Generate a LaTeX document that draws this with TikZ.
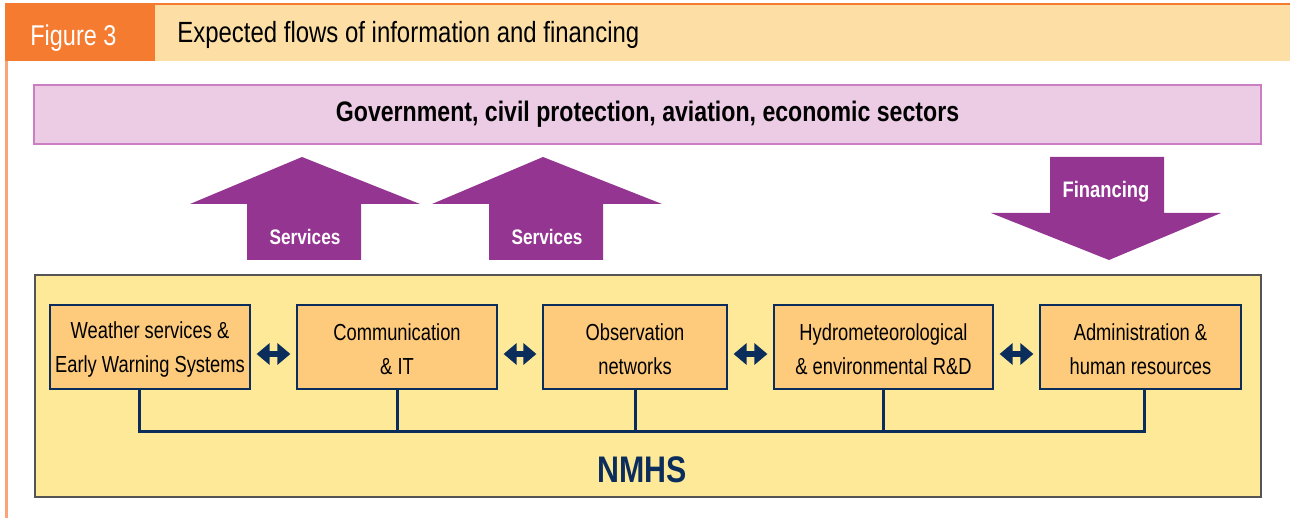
\documentclass[tikz,border=0pt]{standalone}
\usepackage{fontspec}
\setmainfont[FakeStretch=0.82]{Liberation Sans}
\newfontfamily\boxfont[FakeStretch=0.79]{Liberation Sans}
\usetikzlibrary{arrows.meta}
\definecolor{hdrorange}{HTML}{F47B30}
\definecolor{hdrbeige}{HTML}{FDDFA6}
\definecolor{sideline}{HTML}{FBA47A}
\definecolor{bannerfill}{HTML}{ECCBE4}
\definecolor{bannerdraw}{HTML}{CB7EC2}
\definecolor{arrowpurple}{HTML}{953592}
\definecolor{nmhsfill}{HTML}{FEE999}
\definecolor{nmhsdraw}{HTML}{555555}
\definecolor{unitfill}{HTML}{FECB7D}
\definecolor{navy}{HTML}{0B2D5B}
\begin{document}
\begin{tikzpicture}[x=0.5pt,y=-0.5pt,
  unitbox/.style={draw=navy,line width=0.6pt,fill=unitfill,minimum width=200*0.5pt,minimum height=84*0.5pt,align=center,font=\boxfont\fontsize{11.6}{17}\selectfont,inner sep=0pt},
  dbl/.style={draw=navy,line width=3.4pt,{Triangle[length=6.5pt,width=10.5pt]}-{Triangle[length=6.5pt,width=10.5pt]},shorten <=3pt,shorten >=3pt},
  bus/.style={draw=navy,line width=1.5pt},
  bigarrow/.style={fill=arrowpurple},
  arrowlabel/.style={text=white,font=\bfseries\fontsize{10.5}{12}\selectfont,inner sep=0pt}]
\useasboundingbox (0,0) rectangle (1290,518);
% header
\fill[hdrbeige] (155,4) rectangle (1290,61);
\fill[hdrorange] (5,4) rectangle (155,61);
\draw[hdrorange,line width=0.8pt] (5,4) -- (1290,4);
\draw[sideline,line width=1.1pt] (6.5,61) -- (6.5,518);
\node[text=white,anchor=west,font=\fontsize{14.3}{16}\selectfont,inner sep=0pt] (fig) at (30,38) {Figure 3};
\node[anchor=west,font=\fontsize{14.6}{16}\selectfont,inner sep=0pt] (title) at (177,35) {Expected flows of information and financing};
% banner
\node[draw=bannerdraw,line width=0.7pt,fill=bannerfill,minimum width=1227*0.5pt,minimum height=59*0.5pt,inner sep=0pt,font=\bfseries\fontsize{14.1}{15}\selectfont] (gov) at (647.5,114.5) {Government, civil protection, aviation, economic sectors};
% services arrows
\fill[bigarrow] (247,260) -- (247,204) -- (190,204) -- (302,157) -- (420,204) -- (361,204) -- (361,260) -- cycle;
\node[arrowlabel] (s1) at (305,237) {Services};
\fill[bigarrow] (489,260) -- (489,204) -- (432,204) -- (543,157) -- (662,204) -- (603,204) -- (603,260) -- cycle;
\node[arrowlabel] (s2) at (547,237) {Services};
\fill[bigarrow] (1050,157) -- (1164,157) -- (1164,213) -- (1221,213) -- (1109,260) -- (991,213) -- (1050,213) -- cycle;
\node[arrowlabel,font=\bfseries\fontsize{11.2}{12}\selectfont] (fin) at (1106,192) {Financing};
% NMHS box
\draw[nmhsdraw,line width=0.8pt,fill=nmhsfill] (35,275) rectangle (1261,497);
\node[text=navy,font=\bfseries\fontsize{18.5}{20}\selectfont,inner sep=0pt] (nmhs) at (642,470) {NMHS};
% units
\node[unitbox,minimum width=200*0.5pt] (u1) at (150,347) {\rule{0pt}{11pt}Weather services \&\\Early Warning Systems};
\node[unitbox,minimum width=200*0.5pt] (u2) at (397,347) {\rule{0pt}{11pt}Communication\\\& IT};
\node[unitbox,minimum width=184*0.5pt] (u3) at (635,347) {\rule{0pt}{11pt}Observation\\networks};
\node[unitbox,minimum width=219*0.5pt] (u4) at (883.5,347) {\rule{0pt}{11pt}Hydrometeorological\\\& environmental R\&D};
\node[unitbox,minimum width=201*0.5pt] (u5) at (1140.5,347) {\rule{0pt}{11pt}Administration \&\\human resources};
% double arrows
\draw[dbl] ([yshift=-7*0.5pt]u1.east) -- ([yshift=-7*0.5pt]u2.west);
\draw[dbl] ([yshift=-7*0.5pt]u2.east) -- ([yshift=-7*0.5pt]u3.west);
\draw[dbl] ([yshift=-7*0.5pt]u3.east) -- ([yshift=-7*0.5pt]u4.west);
\draw[dbl] ([yshift=-7*0.5pt]u4.east) -- ([yshift=-7*0.5pt]u5.west);
% bus
\coordinate (busL) at (139,431);
\coordinate (busR) at (1144,431);
\draw[bus] (u1.south -| busL) -- (busL) -- (busR) -- (u5.south -| busR);
\draw[bus] (u2.south) -- (u2.south |- busL);
\draw[bus] (u3.south) -- (u3.south |- busL);
\draw[bus] (u4.south) -- (u4.south |- busL);
\end{tikzpicture}
\end{document}
